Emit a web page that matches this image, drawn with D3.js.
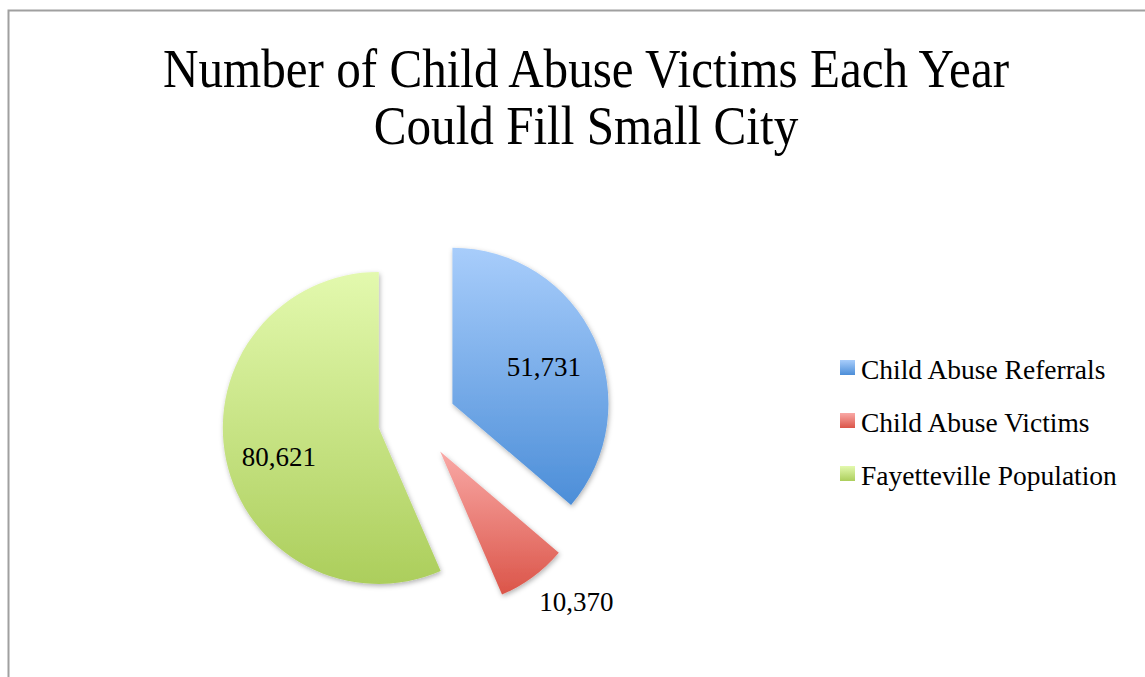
<!DOCTYPE html>
<html>
<head>
<meta charset="utf-8">
<script src="https://cdn.jsdelivr.net/npm/d3@7"></script>
<style>
  html, body { margin: 0; padding: 0; background: #fff; }
  svg { display: block; }
  text { font-family: "Liberation Serif", "DejaVu Serif", serif; fill: #000; }
</style>
</head>
<body>
<svg id="chart" width="1145" height="677"></svg>
<script>
// ---- data ----
const categories = ["Child Abuse Referrals", "Child Abuse Victims", "Fayetteville Population"];
const values = [51731, 10370, 80621];
const valueLabels = ["51,731", "10,370", "80,621"];
const titleLines = ["Number of Child Abuse Victims Each Year", "Could Fill Small City"];

// ---- styles ----
const gradTop = ["#a8cdfb", "#f9a9a6", "#e3f9ae"];
const gradBottom = ["#4c8ed8", "#db5549", "#acce5c"];

const svg = d3.select("#chart");
const W = 1145, H = 677;

// frame
svg.append("path")
  .attr("d", `M8.5,${H + 2} L8.5,10.5 L${W + 2},10.5`)
  .attr("fill", "none")
  .attr("stroke", "#a0a0a0")
  .attr("stroke-width", 2);

// title (slightly condensed serif)
const title = svg.append("g").attr("transform", "translate(586,0) scale(0.91,1)");
const titleText = title.append("text")
  .attr("text-anchor", "middle")
  .attr("font-size", 54);
titleLines.forEach((t, i) => {
  titleText.append("tspan")
    .attr("x", 0)
    .attr("y", 87 + i * 57)
    .text(t);
});

// defs
const defs = svg.append("defs");
const flt = defs.append("filter").attr("id", "shadow")
  .attr("x", "-20%").attr("y", "-20%").attr("width", "140%").attr("height", "140%");
flt.append("feDropShadow")
  .attr("dx", 1).attr("dy", 2).attr("stdDeviation", 2.5)
  .attr("flood-color", "#000").attr("flood-opacity", 0.3);

categories.forEach((c, i) => {
  const g = defs.append("linearGradient")
    .attr("id", "grad" + i)
    .attr("x1", 0).attr("y1", 0).attr("x2", 0).attr("y2", 1);
  g.append("stop").attr("offset", "0%").attr("stop-color", gradTop[i]);
  g.append("stop").attr("offset", "100%").attr("stop-color", gradBottom[i]);
});

// pie
const cx = 417, cy = 420, R = 156, explode = 39;
const pie = d3.pie().sort(null).value(d => d);
const arcs = pie(values);
const arc = d3.arc().innerRadius(0).outerRadius(R);

const pieG = svg.append("g").attr("transform", `translate(${cx},${cy})`);

arcs.forEach((a, i) => {
  const mid = (a.startAngle + a.endAngle) / 2;
  const ox = Math.sin(mid) * explode, oy = -Math.cos(mid) * explode;
  pieG.append("path")
    .attr("transform", `translate(${ox},${oy})`)
    .attr("d", arc(a))
    .attr("fill", `url(#grad${i})`)
    .attr("filter", "url(#shadow)");
});

// labels
const labelR = [0.63, 1.30, 0.667];
const labelAngleShift = [0.055, -0.10, -0.079];
arcs.forEach((a, i) => {
  const mid = (a.startAngle + a.endAngle) / 2;
  const ox = Math.sin(mid) * explode, oy = -Math.cos(mid) * explode;
  const ang = mid + labelAngleShift[i];
  const lx = ox + Math.sin(ang) * R * labelR[i];
  const ly = oy - Math.cos(ang) * R * labelR[i];
  pieG.append("text")
    .attr("x", lx).attr("y", ly)
    .attr("text-anchor", "middle")
    .attr("dominant-baseline", "central")
    .attr("font-size", 27)
    .text(valueLabels[i]);
});

// legend
const legend = svg.append("g").attr("transform", "translate(840,368)");
categories.forEach((c, i) => {
  const row = legend.append("g").attr("transform", `translate(0,${i * 53})`);
  row.append("rect")
    .attr("x", 0).attr("y", -8).attr("width", 15).attr("height", 15)
    .attr("fill", `url(#grad${i})`);
  row.append("text")
    .attr("x", 21).attr("y", 1)
    .attr("dominant-baseline", "central")
    .attr("font-size", 27.5)
    .text(c);
});
</script>
</body>
</html>
